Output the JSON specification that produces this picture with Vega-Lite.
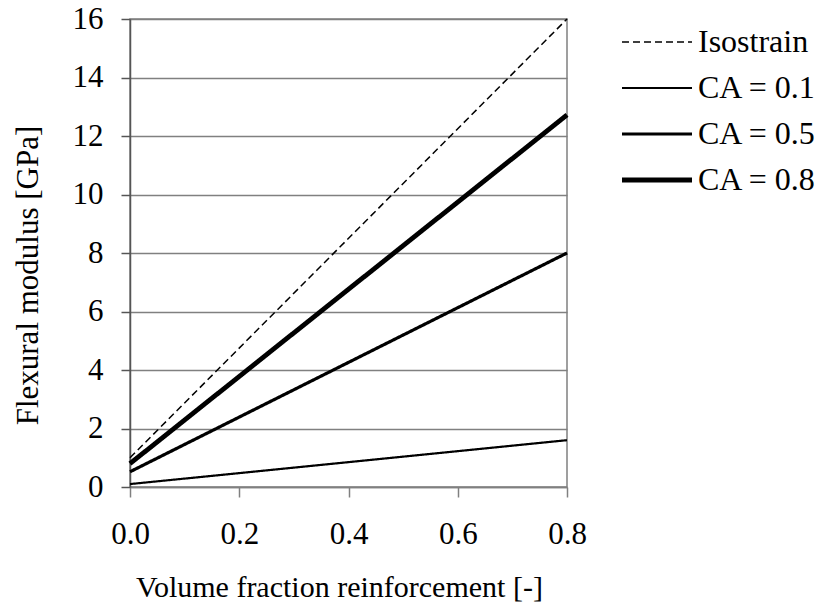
{
  "$schema": "https://vega.github.io/schema/vega-lite/v6.json",
  "width": 437,
  "height": 468,
  "autosize": "none",
  "padding": {"left": 130, "top": 19, "right": 249, "bottom": 117},
  "background": "white",
  "config": {
    "font": "Liberation Serif",
    "view": {"stroke": "#808080", "strokeWidth": 1.5},
    "axis": {
      "labelFont": "Liberation Serif",
      "titleFont": "Liberation Serif",
      "labelColor": "black",
      "titleColor": "black",
      "labelFontWeight": "normal",
      "titleFontWeight": "normal"
    },
    "legend": {
      "labelFont": "Liberation Serif",
      "labelColor": "black"
    }
  },
  "data": {
    "values": [
      {"series": "Isostrain", "vf": 0.0, "E": 1.0},
      {"series": "Isostrain", "vf": 0.8, "E": 16.0},
      {"series": "CA = 0.1", "vf": 0.0, "E": 0.1},
      {"series": "CA = 0.1", "vf": 0.8, "E": 1.6},
      {"series": "CA = 0.5", "vf": 0.0, "E": 0.52},
      {"series": "CA = 0.5", "vf": 0.8, "E": 8.0},
      {"series": "CA = 0.8", "vf": 0.0, "E": 0.8},
      {"series": "CA = 0.8", "vf": 0.8, "E": 12.72}
    ]
  },
  "mark": {"type": "line", "color": "black", "clip": false},
  "encoding": {
    "x": {
      "field": "vf",
      "type": "quantitative",
      "scale": {"domain": [0, 0.8], "nice": false, "zero": false},
      "axis": {
        "title": "Volume fraction reinforcement [-]",
        "values": [0, 0.2, 0.4, 0.6, 0.8],
        "format": ".1f",
        "grid": false,
        "domainColor": "#808080",
        "domainWidth": 1.5,
        "tickColor": "#808080",
        "tickWidth": 1.5,
        "tickSize": 10,
        "labelFontSize": 31,
        "labelPadding": 22,
        "titleFontSize": 30,
        "titleX": 209,
        "titleY": 109,
        "titleBaseline": "alphabetic",
        "labelFlush": false
      }
    },
    "y": {
      "field": "E",
      "type": "quantitative",
      "scale": {"domain": [0, 16], "nice": false},
      "axis": {
        "title": "Flexural modulus [GPa]",
        "values": [0, 2, 4, 6, 8, 10, 12, 14, 16],
        "grid": true,
        "gridColor": "#808080",
        "gridWidth": 1.5,
        "gridOpacity": 1,
        "domainColor": "#555555",
        "domainWidth": 1.5,
        "tickColor": "#555555",
        "tickWidth": 1.5,
        "tickSize": 9,
        "labelFontSize": 31,
        "labelPadding": 18,
        "titleFontSize": 31,
        "titleX": -93,
        "titleY": 256,
        "titleBaseline": "alphabetic",
        "labelFlush": false
      }
    },
    "detail": {"field": "series", "type": "nominal"},
    "strokeWidth": {
      "field": "series",
      "type": "nominal",
      "scale": {
        "type": "ordinal",
        "domain": ["Isostrain", "CA = 0.1", "CA = 0.5", "CA = 0.8"],
        "range": [1.5, 2.2, 3.2, 4.8]
      },
      "legend": {
        "title": null,
        "orient": "none",
        "legendX": 511,
        "legendY": 7,
        "symbolType": "M-3.5,0H3.5",
        "symbolSize": 400,
        "symbolStrokeColor": "black",
        "labelOffset": 25,
        "labelFontSize": 32,
        "rowPadding": 14
      }
    },
    "strokeDash": {
      "field": "series",
      "type": "nominal",
      "scale": {
        "domain": ["Isostrain", "CA = 0.1", "CA = 0.5", "CA = 0.8"],
        "range": [[7, 4], [1, 0], [1, 0], [1, 0]]
      },
      "legend": {
        "title": null,
        "orient": "none",
        "legendX": 511,
        "legendY": 7,
        "symbolType": "M-3.5,0H3.5",
        "symbolSize": 400,
        "symbolStrokeColor": "black",
        "labelOffset": 25,
        "labelFontSize": 32,
        "rowPadding": 14
      }
    }
  }
}
